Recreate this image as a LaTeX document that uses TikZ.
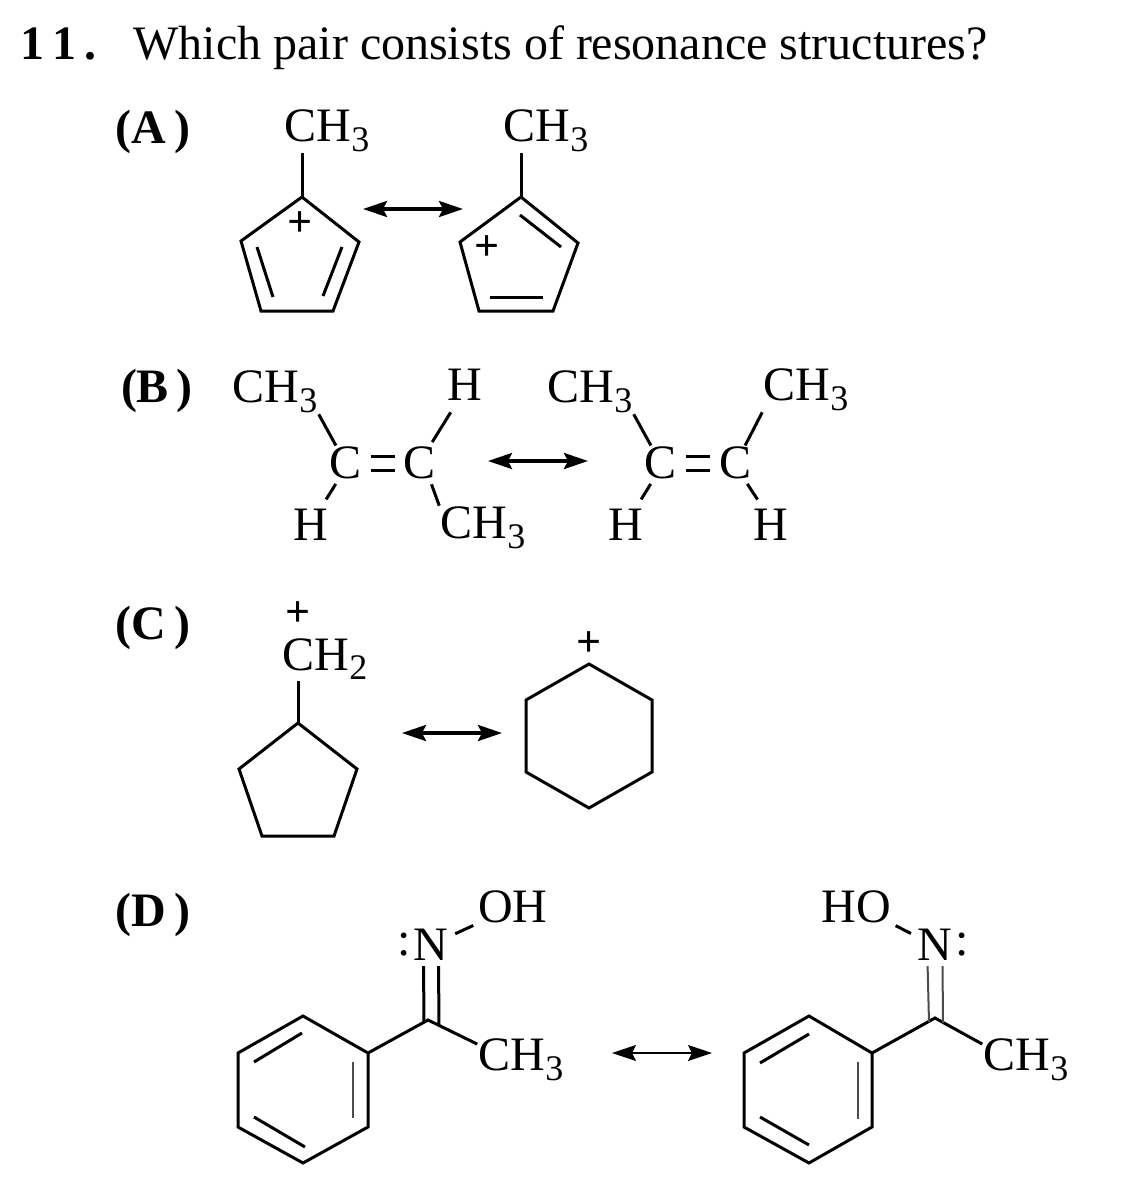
\documentclass[tikz,border=0pt]{standalone}
\usepackage{fontspec}
\setmainfont{Liberation Serif}
\usetikzlibrary{arrows.meta}
\newcommand{\subthree}{\raisebox{-0.2em}{\fontsize{18}{18}\selectfont 3}}
\newcommand{\subtwo}{\raisebox{-0.2em}{\fontsize{18}{18}\selectfont 2}}
\tikzset{
  atom/.style={inner sep=0.5pt, font=\fontsize{24}{25}\selectfont},
  charge/.style={inner sep=0pt, font=\bfseries\fontsize{22}{22}\selectfont},
  question/.style={inner sep=0pt, anchor=base west, font=\fontsize{24}{25}\selectfont},
  choice/.style={inner sep=0pt, font=\bfseries\fontsize{24}{25}\selectfont},
  bond/.style={line width=1.5pt},
  gapbond/.style={line width=1.5pt, shorten <=2pt, shorten >=5pt},
  thinbond/.style={line width=1pt, black!70},
  reson/.style={line width=1.7pt, {Stealth[length=12pt,width=8pt,inset=2pt]}-{Stealth[length=12pt,width=8pt,inset=2pt]}}
}
\begin{document}
\begin{tikzpicture}[x=0.5pt, y=-0.5pt]
\useasboundingbox (0,0) rectangle (1128,1200);

\node [question, font=\bfseries\fontsize{24}{25}\selectfont] (qnum) at (20,59) {1\,1\,.};
\node [question] (qtext) at (133,59) {Which pair consists of resonance structures?};
\node [choice] (la) at (153,132) {(A\,)};
\node [choice] (lb) at (157,391) {(B\,)};
\node [choice] (lc) at (153,628) {(C\,)};
\node [choice] (ld) at (153,915) {(D\,)};

\node [atom] (a1me) at (327,131) {CH\subthree};
\coordinate (a1t) at (302,197);
\coordinate (a1r) at (359,242);
\coordinate (a1br) at (333,311);
\coordinate (a1bl) at (261,311);
\coordinate (a1l) at (241,241);
\draw [bond] (a1me.south -| a1t) -- (a1t);
\draw [bond] (a1t) -- (a1r) -- (a1br) -- (a1bl) -- (a1l) -- cycle;
\coordinate (a1p) at (257,247);
\coordinate (a1q) at (273,297);
\coordinate (a1u) at (342,247);
\coordinate (a1v) at (323,296);
\draw [bond] (a1p) -- (a1q);
\draw [bond] (a1u) -- (a1v);
\node [charge] (a1plus) at (300,224) {+};
\node [atom] (a2me) at (546,131) {CH\subthree};
\coordinate (a2t) at (521,197);
\coordinate (a2r) at (578,243);
\coordinate (a2br) at (553,311);
\coordinate (a2bl) at (479,311);
\coordinate (a2l) at (460,242);
\draw [bond] (a2me.south -| a2t) -- (a2t);
\draw [bond] (a2t) -- (a2r) -- (a2br) -- (a2bl) -- (a2l) -- cycle;
\coordinate (a2p) at (520,215);
\coordinate (a2q) at (561,247);
\coordinate (a2u) at (490,297);
\coordinate (a2v) at (543,297);
\draw [bond] (a2p) -- (a2q);
\draw [bond] (a2u) -- (a2v);
\node [charge] (a2plus) at (487,248) {+};
\coordinate (arra) at (363,209);
\coordinate (arrb) at (463,209);
\draw [reson] (arra) -- (arrb);

\node [atom] (b1me) at (275,392) {CH\subthree};
\node [atom] (b1h) at (465,385) {H};
\node [atom] (b1cl) at (346,463) {C};
\node [atom] (b1cr) at (420,463) {C};
\node [atom] (b1hl) at (311,525) {H};
\node [atom] (b1mr) at (483,528) {CH\subthree};
\draw [bond] (b1me.south east) -- (b1cl.120);
\draw [gapbond, shorten >=6pt] (b1cr.60) -- (b1h.-115);
\draw [gapbond] (b1cl.-115) -- (b1hl.60);
\draw [bond, shorten <=2pt] (b1cr.-60) -- (b1mr.north west);
\draw [bond, shorten <=4pt, shorten >=4pt] ([yshift=-3.5pt]b1cl.east) -- ([yshift=-3.5pt]b1cr.west);
\draw [bond, shorten <=4pt, shorten >=4pt] ([yshift=3.5pt]b1cl.east) -- ([yshift=3.5pt]b1cr.west);
\node [atom] (b2me) at (590,392) {CH\subthree};
\node [atom] (b2mr) at (806,390) {CH\subthree};
\node [atom] (b2cl) at (661,463) {C};
\node [atom] (b2cr) at (735,463) {C};
\node [atom] (b2hl) at (626,525) {H};
\node [atom] (b2hr) at (771,525) {H};
\draw [bond] (b2me.south east) -- (b2cl.120);
\draw [bond] (b2cr.60) -- (b2mr.south west);
\draw [gapbond] (b2cl.-115) -- (b2hl.60);
\draw [gapbond] (b2cr.-60) -- (b2hr.115);
\draw [bond, shorten <=4pt, shorten >=4pt] ([yshift=-3.5pt]b2cl.east) -- ([yshift=-3.5pt]b2cr.west);
\draw [bond, shorten <=4pt, shorten >=4pt] ([yshift=3.5pt]b2cl.east) -- ([yshift=3.5pt]b2cr.west);
\coordinate (arrc) at (488,461);
\coordinate (arrd) at (588,461);
\draw [reson] (arrc) -- (arrd);

\node [charge] (c1plus) at (298,614) {+};
\node [atom] (c1me) at (325,659) {CH\subtwo};
\coordinate (c1t) at (298,723);
\coordinate (c1r) at (357,769);
\coordinate (c1br) at (334,836);
\coordinate (c1bl) at (262,836);
\coordinate (c1l) at (239,769);
\draw [bond] (c1me.south -| c1t) -- (c1t);
\draw [bond] (c1t) -- (c1r) -- (c1br) -- (c1bl) -- (c1l) -- cycle;
\node [charge] (c2plus) at (589,644) {+};
\coordinate (c2t) at (589,664);
\coordinate (c2ur) at (652,700);
\coordinate (c2lr) at (652,772);
\coordinate (c2b) at (589,808);
\coordinate (c2ll) at (526,772);
\coordinate (c2ul) at (526,700);
\draw [bond] (c2t) -- (c2ur) -- (c2lr) -- (c2b) -- (c2ll) -- (c2ul) -- cycle;
\coordinate (arre) at (402,733);
\coordinate (arrf) at (502,733);
\draw [reson] (arre) -- (arrf);

\node [atom] (d1n) at (431,945) {N};
\node [atom, anchor=east] (d1lp) at (d1n.west) {:};
\node [atom] (d1oh) at (513,907) {OH};
\node [atom] (d1me) at (521,1060) {CH\subthree};
\coordinate (d1c) at (428,1020);
\coordinate (d1cl) at (424,1022);
\coordinate (d1cr) at (439,1026);
\coordinate (d1t) at (303,1016);
\coordinate (d1ur) at (368,1053);
\coordinate (d1lr) at (368,1127);
\coordinate (d1b) at (303,1163);
\coordinate (d1ll) at (238,1127);
\coordinate (d1ul) at (238,1053);
\draw [bond] (d1t) -- (d1ur) -- (d1lr) -- (d1b) -- (d1ll) -- (d1ul) -- cycle;
\draw [bond] (d1ur) -- (d1c) -- (d1me.160);
\draw [bond, shorten <=3pt, shorten >=2pt] (d1n.25) -- (d1oh.-155);
\draw [bond, shorten <=2pt] ([xshift=-3.75pt]d1n.south) -- (d1cl);
\draw [bond, shorten <=2pt] ([xshift=3.75pt]d1n.south) -- (d1cr);
\coordinate (d1p) at (302,1033);
\coordinate (d1q) at (254,1062);
\coordinate (d1u) at (353,1062);
\coordinate (d1v) at (353,1118);
\coordinate (d1w) at (254,1117);
\coordinate (d1z) at (305,1147);
\draw [bond] (d1p) -- (d1q);
\draw [thinbond] (d1u) -- (d1v);
\draw [bond] (d1w) -- (d1z);
\node [atom] (d2n) at (935,945) {N};
\node [atom, anchor=west] (d2lp) at (d2n.east) {:};
\node [atom] (d2ho) at (856,907) {HO};
\node [atom] (d2me) at (1026,1060) {CH\subthree};
\coordinate (d2c) at (935,1018);
\coordinate (d2cl) at (929,1022);
\coordinate (d2cr) at (943,1023);
\coordinate (d2t) at (809,1016);
\coordinate (d2ur) at (872,1053);
\coordinate (d2lr) at (872,1127);
\coordinate (d2b) at (809,1163);
\coordinate (d2ll) at (744,1127);
\coordinate (d2ul) at (744,1053);
\draw [bond] (d2t) -- (d2ur) -- (d2lr) -- (d2b) -- (d2ll) -- (d2ul) -- cycle;
\draw [bond] (d2ur) -- (d2c) -- (d2me.160);
\draw [bond, shorten <=2pt, shorten >=3pt] (d2ho.-25) -- (d2n.155);
\draw [thinbond, shorten <=2pt] ([xshift=-3.75pt]d2n.south) -- (d2cl);
\draw [thinbond, shorten <=2pt] ([xshift=3.75pt]d2n.south) -- (d2cr);
\coordinate (d2p) at (809,1034);
\coordinate (d2q) at (760,1063);
\coordinate (d2u) at (858,1062);
\coordinate (d2v) at (858,1119);
\coordinate (d2w) at (760,1117);
\coordinate (d2z) at (809,1145);
\draw [bond] (d2p) -- (d2q);
\draw [thinbond] (d2u) -- (d2v);
\draw [bond] (d2w) -- (d2z);
\coordinate (arrg) at (612,1053);
\coordinate (arrh) at (712,1053);
\draw [reson, line width=0.8pt] (arrg) -- (arrh);
\end{tikzpicture}
\end{document}
